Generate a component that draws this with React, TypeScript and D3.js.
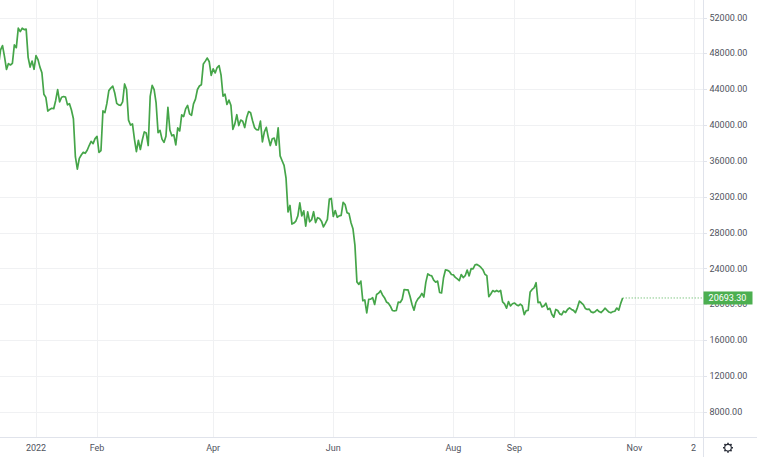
import React from "react";
import * as d3 from "d3";

// Daily closes, starting Dec 13, 2021
const dec2021 = [46700, 48380, 48870, 47630, 46200, 46850, 46700, 46880, 48940, 48630, 50820, 50430, 50800, 50640, 50700, 47550, 46470, 47140, 46220];
const jan = [47740, 47310, 46460, 45830, 43430, 43080, 41560, 41740, 41870, 41820, 42740, 43950, 42590, 43100, 43180, 43110, 42250, 42380, 41680, 40700, 36460, 35070, 36280, 36650, 36950, 36840, 37180, 37710, 38170, 37920, 38480];
const feb = [38740, 36950, 37150, 41570, 41380, 42410, 43840, 44120, 44340, 43570, 42410, 42240, 42200, 42590, 44580, 43960, 40540, 40000, 40120, 38430, 37020, 38290, 37270, 38330, 39230, 39100, 37710, 43190];
const mar = [44420, 43940, 42460, 39150, 39400, 38420, 38060, 38740, 41980, 39440, 38790, 38900, 37790, 39670, 39340, 41140, 40950, 41800, 42190, 41250, 41080, 42360, 42890, 43960, 44350, 44500, 46820, 47130, 47470, 47060, 45540];
const apr = [46280, 45810, 46410, 46620, 45560, 43210, 43450, 42290, 42780, 42210, 39520, 40130, 41150, 39940, 40550, 40420, 39720, 40830, 41500, 41360, 40480, 39710, 39470, 39450, 40430, 38120, 39240, 39740, 38600, 37710];
const may = [38470, 38530, 37750, 39690, 36550, 36010, 35500, 34060, 30300, 31020, 28940, 29050, 29280, 29860, 31300, 29860, 30420, 28720, 30310, 29200, 29430, 30320, 29100, 29650, 29560, 29270, 28630, 29030, 29470, 31730, 31800];
const jun = [29800, 30450, 29700, 29860, 29910, 31370, 31130, 30210, 30110, 29090, 28420, 26570, 22490, 22210, 22580, 20380, 20470, 19020, 20550, 20570, 20720, 19970, 21080, 21230, 21500, 21030, 20730, 20250, 20100, 19780];
const jul = [19300, 19250, 19300, 20230, 20190, 20550, 21640, 21590, 21590, 20860, 19970, 19330, 20210, 20590, 20820, 21200, 20800, 22430, 23390, 23230, 23160, 22680, 22460, 22580, 21310, 21250, 22950, 23840, 23780, 23640, 23310];
const aug = [23270, 22990, 22820, 22620, 23310, 22960, 23180, 23810, 23160, 23960, 23950, 24400, 24440, 24300, 24100, 23850, 23340, 23190, 20830, 21140, 21520, 21400, 21530, 21400, 21530, 20260, 20040, 19550, 20290, 19800, 20050];
const sep = [20130, 19950, 19830, 20000, 19800, 18840, 19290, 19320, 21370, 21650, 21830, 22400, 20170, 20240, 19700, 19800, 20110, 19420, 19540, 18880, 18550, 19410, 19290, 18920, 18810, 19230, 19080, 19410, 19590, 19420];
const oct = [19310, 19060, 19620, 20340, 20160, 19960, 19530, 19420, 19450, 19140, 19060, 19160, 19380, 19180, 19070, 19270, 19550, 19330, 19120, 19040, 19170, 19210, 19570, 19330, 20090, 20693.3];

const monthSeries: [number, number, number, number[]][] = [
  [2021, 11, 13, dec2021],
  [2022, 0, 1, jan],
  [2022, 1, 1, feb],
  [2022, 2, 1, mar],
  [2022, 3, 1, apr],
  [2022, 4, 1, may],
  [2022, 5, 1, jun],
  [2022, 6, 1, jul],
  [2022, 7, 1, aug],
  [2022, 8, 1, sep],
  [2022, 9, 1, oct],
];

const yTicks = [8000, 12000, 16000, 20000, 24000, 28000, 32000, 36000, 40000, 44000, 48000, 52000];
const xTickDates = ["2022-01-01", "2022-02-01", "2022-04-01", "2022-06-01", "2022-08-01", "2022-09-01", "2022-11-01", "2022-12-01"];
const xTickLabels = ["2022", "Feb", "Apr", "Jun", "Aug", "Sep", "Nov", "2"];

type Pt = { date: Date; value: number };
const data: Pt[] = monthSeries.flatMap(([yr, mo, startDay, vals]) =>
  vals.map((v, i) => ({ date: new Date(Date.UTC(yr, mo, startDay + i)), value: v }))
);

const W = 757;
const H = 457;
const plotRight = 703;
const plotBottom = 437.5;
const green = "#4caf50";
const lineGreen = "#45a549";
const gridColor = "#f0f1f3";
const borderColor = "#e0e3eb";
const textColor = "#50535e";
const font = "Roboto, 'Liberation Sans', sans-serif";

export default function App() {
  const x = d3
    .scaleUtc()
    .domain([new Date(Date.UTC(2022, 0, 1)), new Date(Date.UTC(2022, 10, 1))])
    .range([36, 634.5]);
  const y = d3.scaleLinear().domain([8000, 52000]).range([411.7, 17.5]);

  const line = d3
    .line<Pt>()
    .x((d) => x(d.date))
    .y((d) => y(d.value));

  const last = data[data.length - 1];
  const lx = x(last.date);
  const ly = y(last.value);
  const fmt = d3.format(".2f");

  const gearTeeth = d3.range(8).map((i) => (i * Math.PI) / 4);
  const gx = 728;
  const gy = 447.7;

  return (
    <svg
      width={W}
      height={H}
      style={{ position: "fixed", left: 0, top: 0, background: "#fff" }}
      fontFamily={font}
    >
      <defs>
        <clipPath id="plotClip">
          <rect x={0} y={0} width={plotRight} height={plotBottom} />
        </clipPath>
      </defs>
      <rect x={0} y={0} width={W} height={H} fill="#fff" />
      {/* vertical grid */}
      {xTickDates.map((d) => {
        const px = Math.round(x(new Date(d + "T00:00:00Z"))) + 0.5;
        return <line key={d} x1={px} x2={px} y1={0} y2={plotBottom} stroke={gridColor} strokeWidth={1} />;
      })}
      {/* horizontal grid */}
      {yTicks.map((t) => {
        const py = Math.round(y(t)) + 0.5;
        return (
          <g key={t}>
            <line x1={0} x2={plotRight} y1={py} y2={py} stroke={gridColor} strokeWidth={1} />
            <line x1={plotRight} x2={plotRight + 4} y1={py} y2={py} stroke={borderColor} strokeWidth={1} />
          </g>
        );
      })}
      {/* borders */}
      <line x1={plotRight + 0.5} x2={plotRight + 0.5} y1={0} y2={H} stroke={borderColor} strokeWidth={1} />
      <line x1={0} x2={W} y1={plotBottom} y2={plotBottom} stroke={borderColor} strokeWidth={1} />

      {/* price line */}
      <g clipPath="url(#plotClip)">
        <path d={line(data) || ""} fill="none" stroke={lineGreen} strokeWidth={1.7} strokeLinejoin="round" />
        <line x1={lx} x2={plotRight} y1={ly} y2={ly} stroke={green} strokeWidth={1} strokeDasharray="1,2" />
      </g>

      {/* y labels */}
      {yTicks.map((t) => (
        <text key={t} x={709.5} y={y(t)} dy="0.35em" fontSize={9} fill={textColor}>
          {fmt(t)}
        </text>
      ))}
      {/* last price label */}
      <rect x={plotRight + 0.5} y={ly - 6.5} width={49} height={13} fill={green} />
      <text x={727.5} y={ly} dy="0.35em" fontSize={9} fill="#fff" textAnchor="middle">
        {fmt(last.value)}
      </text>

      {/* x labels */}
      {xTickDates.map((d, i) => (
        <text
          key={d}
          x={x(new Date(d + "T00:00:00Z"))}
          y={448}
          dy="0.35em"
          fontSize={9}
          fill={textColor}
          textAnchor="middle"
        >
          {xTickLabels[i]}
        </text>
      ))}

      {/* gear icon */}
      <g stroke="#2a2e39" fill="none">
        <circle cx={gx} cy={gy} r={3.3} strokeWidth={1.1} />
        {gearTeeth.map((a, i) => (
          <line
            key={i}
            x1={gx + Math.cos(a) * 3.3}
            y1={gy + Math.sin(a) * 3.3}
            x2={gx + Math.cos(a) * 5}
            y2={gy + Math.sin(a) * 5}
            strokeWidth={1.6}
          />
        ))}
      </g>
    </svg>
  );
}
